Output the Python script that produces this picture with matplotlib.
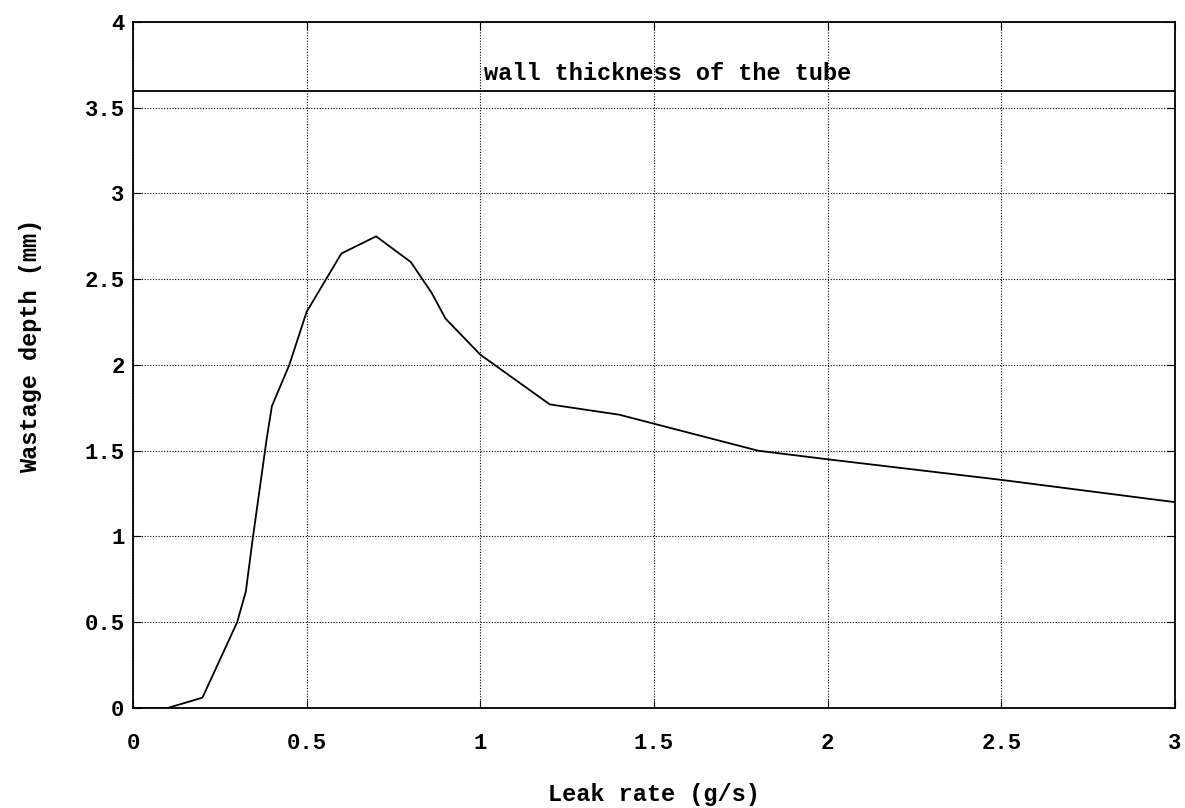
import numpy as np
import matplotlib.pyplot as plt

leak_rate = [0.0, 0.1, 0.2, 0.3, 0.325, 0.345, 0.385, 0.4, 0.45, 0.5, 0.6, 0.7,
             0.8, 0.86, 0.9, 1.0, 1.2, 1.4, 1.8, 2.0, 2.5, 3.0]
wastage = [0.0, 0.0, 0.06, 0.5, 0.68, 0.99, 1.57, 1.76, 2.0, 2.31, 2.65, 2.75,
           2.6, 2.42, 2.27, 2.06, 1.77, 1.71, 1.5, 1.45, 1.33, 1.2]
wall = 3.6

plt.rcParams['font.family'] = ['Liberation Mono', 'DejaVu Sans']
plt.rcParams['font.weight'] = 'bold'
plt.rcParams['axes.labelweight'] = 'bold'

fig = plt.figure(figsize=(11.85, 8.08), dpi=100)
ax = fig.add_axes([0.1122, 0.1238, 0.8794, 0.849])

ax.plot(leak_rate, wastage, color='black', lw=1.3)
ax.axhline(wall, color='black', lw=1.3)
ax.text(1.01, wall + 0.03, 'wall thickness of the tube', fontsize=17,
        va='bottom', ha='left')

ax.set_xlim(0, 3)
ax.set_ylim(0, 4)
ax.set_xticks(np.arange(0, 3.01, 0.5))
ax.set_yticks(np.arange(0, 4.01, 0.5))
ax.set_xticklabels(['0', '0.5', '1', '1.5', '2', '2.5', '3'])
ax.set_yticklabels(['0', '0.5', '1', '1.5', '2', '2.5', '3', '3.5', '4'])
ax.grid(True, color='black', ls=(0, (1, 1.5)), lw=0.8)
ax.tick_params(direction='in', length=6, top=True, right=True, labelsize=16)
ax.tick_params(axis='x', pad=18)
ax.tick_params(axis='y', pad=6)
for s in ax.spines.values():
    s.set_linewidth(1.3)

ax.set_xlabel('Leak rate (g/s)', fontsize=17, labelpad=21)
ax.set_ylabel('Wastage depth (mm)', fontsize=17)
ax.yaxis.set_label_coords(-0.087, 0.528)

plt.savefig('out.png', dpi=100)
